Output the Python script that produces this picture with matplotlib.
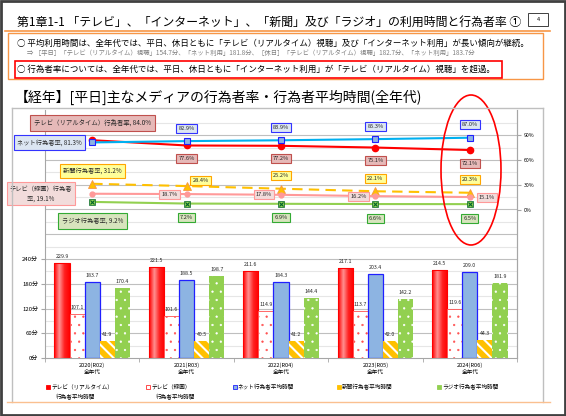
import matplotlib
matplotlib.use("Agg")
import matplotlib.pyplot as plt
import matplotlib.patches as mpatches
from matplotlib.lines import Line2D
from matplotlib.colors import LinearSegmentedColormap
import numpy as np

plt.rcParams['font.family'] = ['Noto Sans CJK JP', 'DejaVu Sans']
plt.rcParams['hatch.linewidth'] = 1.5

years = ["2020(R02)", "2021(R03)", "2022(R04)", "2023(R05)", "2024(R06)"]
age_group = "全年代"

# 行為者平均時間(分)
tv_rt_min = [229.9, 221.5, 211.6, 217.1, 214.5]
tv_rec_min = [107.1, 101.6, 114.9, 113.7, 119.6]
net_min = [183.7, 188.5, 184.3, 203.4, 209.0]
paper_min = [41.9, 40.5, 41.2, 42.0, 44.3]
radio_min = [170.4, 198.7, 144.4, 142.2, 181.9]

# 行為者率(%)
tv_rt_rate = [84.0, 77.6, 77.2, 75.1, 72.1]
net_rate = [81.3, 82.9, 83.9, 85.3, 87.0]
paper_rate = [31.2, 28.4, 25.2, 22.1, 20.3]
tv_rec_rate = [19.1, 18.7, 17.8, 16.2, 15.1]
radio_rate = [9.2, 7.2, 6.9, 6.6, 6.5]

min_ticks = [0, 60, 120, 180, 240]
rate_ticks = [0, 30, 60, 90]

W, H = 566, 416
fig = plt.figure(figsize=(W / 100, H / 100), dpi=100)


def fx(x):
    return x / W


def fy(y):
    return 1 - y / H


def hline(x0, x1, y, color, lw):
    fig.add_artist(Line2D([fx(x0), fx(x1)], [fy(y), fy(y)], color=color, lw=lw,
                          transform=fig.transFigure))


def vline(x, y0, y1, color, lw):
    fig.add_artist(Line2D([fx(x), fx(x)], [fy(y0), fy(y1)], color=color, lw=lw,
                          transform=fig.transFigure))


def frame(x0, y0, x1, y1, color, lw):
    fig.add_artist(mpatches.Rectangle((fx(x0), fy(y1)), fx(x1) - fx(x0), fy(y0) - fy(y1),
                                      fill=False, ec=color, lw=lw, transform=fig.transFigure))


# page decorations
frame(1, 1, 565, 415, '#404040', 2)
fig.text(fx(17), fy(22), "第1章1-1 「テレビ」、「インターネット」、「新聞」及び「ラジオ」の利用時間と行為者率 ①",
         fontsize=8.6, va='center', ha='left')
hline(5, 550, 31, '#F79646', 1.2)
frame(528, 13, 548, 26, '#404040', 0.7)
fig.text(fx(538), fy(19.5), "4", fontsize=4, ha='center', va='center')

frame(8, 33, 543, 79, '#F79646', 1.0)
fig.text(fx(17), fy(43), "○ 平均利用時間は、全年代では、平日、休日ともに「テレビ（リアルタイム）視聴」及び「インターネット利用」が長い傾向が継続。",
         fontsize=6.1, va='center', ha='left')
fig.text(fx(27), fy(53), "⇒ ［平日］「テレビ（リアルタイム）視聴」154.7分、「ネット利用」181.8分、［休日］「テレビ（リアルタイム）視聴」182.7分、「ネット利用」183.7分",
         fontsize=4.6, va='center', ha='left', color='#7F7F7F')
frame(15, 61, 502, 78, '#FF0000', 1.2)
fig.text(fx(17), fy(69), "○ 行為者率については、全年代では、平日、休日ともに「インターネット利用」が「テレビ（リアルタイム）視聴」を超過。",
         fontsize=6.1, va='center', ha='left')
fig.text(fx(15), fy(97), "【経年】[平日]主なメディアの行為者率・行為者平均時間(全年代)",
         fontsize=10, va='center', ha='left')

vline(12, 108, 402, '#BFBFBF', 1)
vline(543, 108, 402, '#BFBFBF', 1)
hline(12, 543, 108, '#BFBFBF', 1)
hline(7, 550, 402, '#FAC090', 1)

# chart
ax = fig.add_axes([fx(45), fy(358), 472 / W, 247.5 / H])
x = np.arange(len(years))
bw = 0.16

for v in range(30, 600, 30):
    ax.axhline(v, color='#BFBFBF' if v % 60 == 0 else '#E6E6E6', lw=0.8, zorder=0)

rt_bars = ax.bar(x - 2 * bw, tv_rt_min, bw, facecolor='none', edgecolor='#FF0000', lw=0.8, zorder=3)
grad_cmap = LinearSegmentedColormap.from_list('rtgrad', ['#FF0000', '#FF9090', '#FF2020', '#FF0000'])
grad = np.linspace(0, 1, 32).reshape(1, -1)
for r in rt_bars:
    im = ax.imshow(grad, extent=(r.get_x(), r.get_x() + r.get_width(), 0, r.get_height()),
                   aspect='auto', cmap=grad_cmap, zorder=2.5)
    im.set_clip_path(r)

with plt.rc_context({'hatch.linewidth': 0.4}):
    rec_bars = ax.bar(x - bw, tv_rec_min, bw, facecolor='white', edgecolor='#FF5050',
                      hatch='..', lw=0.6, zorder=3)
    radio_bars = ax.bar(x + 2 * bw, radio_min, bw, facecolor='#92D050', edgecolor='white',
                        hatch='..', lw=0, zorder=3)
for r in list(rec_bars) + list(radio_bars):
    if hasattr(r, 'set_hatch_linewidth'):
        r.set_hatch_linewidth(0.4)
net_bars = ax.bar(x, net_min, bw, facecolor='#8DB4E2', edgecolor='#2020FF', lw=0.9, zorder=3)
paper_bars = ax.bar(x + bw, paper_min, bw, facecolor='#FFC000', edgecolor='white',
                    hatch='\\\\\\', lw=0, zorder=3)

for bars, vals in [(rt_bars, tv_rt_min), (rec_bars, tv_rec_min), (net_bars, net_min),
                   (paper_bars, paper_min), (radio_bars, radio_min)]:
    for r, v in zip(bars, vals):
        ax.annotate(f"{v:.1f}", (r.get_x() + r.get_width() / 2, v), xytext=(0, 4),
                    textcoords='offset pixels', ha='center', va='bottom', fontsize=3.8,
                    color='#262626', zorder=4)

ax.set_xlim(-0.5, 4.5)
ax.set_ylim(0, 600)
ax.set_yticks(min_ticks)
ax.set_yticklabels([f"{v}分" for v in min_ticks])
ax.tick_params(axis='y', length=3, color='#A6A6A6', labelsize=4.3, pad=2)
ax.set_xticks(x)
ax.set_xticklabels([f"{y}\n{age_group}" for y in years], linespacing=1.5)
ax.tick_params(axis='x', length=0, labelsize=4.1, pad=3)
ax.set_xticks(np.arange(-0.5, 5, 1), minor=True)
ax.tick_params(axis='x', which='minor', length=3, color='#A6A6A6')
ax.spines['top'].set_visible(False)
for s in ['left', 'right', 'bottom']:
    ax.spines[s].set_color('#A6A6A6')

ax2 = ax.twinx()
ax2.set_ylim(-180, 120)
ax2.set_yticks(rate_ticks)
ax2.set_yticklabels([f"{v}%" for v in rate_ticks])
ax2.tick_params(axis='y', length=3, color='#A6A6A6', labelsize=3.8, pad=2)
for s in ['left', 'top', 'bottom']:
    ax2.spines[s].set_visible(False)
ax2.spines['right'].set_color('#A6A6A6')

ax2.plot(x, tv_rt_rate, color='#FF0000', lw=1.5, marker='o', ms=4.5, zorder=3)
ax2.plot(x, net_rate, color='#00B0F0', lw=1.5, marker='s', ms=4.5, mfc='#8DB4E2', mec='#2020FF',
         mew=0.8, zorder=3)
ax2.plot(x, paper_rate, color='#FFC000', lw=1.5, ls=(0, (5, 3)), marker='^', ms=5.5,
         mfc='#FFC000', mec='#F79646', mew=0.6, zorder=3)
ax2.plot(x, tv_rec_rate, color='#FF9999', lw=1.5, marker='o', ms=3.5, mfc='#FF9999',
         mec='#FF9999', zorder=3)
ax2.plot(x, radio_rate, color='#92D050', lw=1.5, marker='s', ms=4, mfc='#92D050',
         mec='#00642A', mew=0.5, zorder=3)
ax2.plot(x, radio_rate, ls='none', marker='x', ms=3.5, mec='#00642A', mew=0.8, zorder=3)


def tag(px, py, text, dx, dy, fc, ec, ha='center', size=4.1, pad=0.35):
    ax2.annotate(text, (px, py), xytext=(dx, dy), textcoords='offset pixels', ha=ha, va='center',
                 fontsize=size, multialignment='center', color='#262626', zorder=5,
                 bbox=dict(boxstyle=f'square,pad={pad}', fc=fc, ec=ec, lw=0.8))


rt_style = ('#E6B9B8', '#C0504D')
net_style = ('#DCE6F2', '#3333FF')
paper_style = ('#FFFF99', '#FFA500')
rec_style = ('#F2DCDB', '#FF9999')
radio_style = ('#D7E4BD', '#33AA33')

tag(x[0], tv_rt_rate[0], f"テレビ（リアルタイム）行為者率, {tv_rt_rate[0]:.1f}%", 0, 17, *rt_style,
    size=4.6, pad=0.6)
tag(x[0], net_rate[0], f"ネット行為者率, {net_rate[0]:.1f}%", -10, 0, *net_style, ha='right',
    size=4.5, pad=0.5)
tag(x[0], paper_rate[0], f"新聞行為者率, {paper_rate[0]:.1f}%", 0, 13, *paper_style,
    size=4.5, pad=0.5)
tag(x[0], tv_rec_rate[0], f"テレビ（録画）行為者\n率, {tv_rec_rate[0]:.1f}%", -20, 0, *rec_style,
    ha='right', size=4.5, pad=0.5)
tag(x[0], radio_rate[0], f"ラジオ行為者率, {radio_rate[0]:.1f}%", 0, -19, *radio_style,
    size=4.5, pad=0.6)

for i in range(1, len(years)):
    tag(x[i], net_rate[i], f"{net_rate[i]:.1f}%", 0, 13, *net_style)
    tag(x[i], tv_rt_rate[i], f"{tv_rt_rate[i]:.1f}%", 0, -13, *rt_style)
    tag(x[i], paper_rate[i], f"{paper_rate[i]:.1f}%", 14 if i == 1 else 0, 6 if i == 1 else 13,
        *paper_style)
    tag(x[i], tv_rec_rate[i], f"{tv_rec_rate[i]:.1f}%", 17 if i == 4 else -17, 0, *rec_style)
    tag(x[i], radio_rate[i], f"{radio_rate[i]:.1f}%", 0, -14, *radio_style)

# legend
legend_items = [
    ("テレビ（リアルタイム）", "行為者平均時間", '#FF0000', '#FF0000', 48),
    ("テレビ（録画）", "行為者平均時間", 'white', '#FF3030', 148),
    ("ネット行為者平均時間", None, '#8DB4E2', '#2020FF', 235),
    ("新聞行為者平均時間", None, '#FFC000', '#FFC000', 339),
    ("ラジオ行為者平均時間", None, '#92D050', '#92D050', 439),
]
for lab1, lab2, fc, ec, lx in legend_items:
    fig.add_artist(mpatches.Rectangle((fx(lx - 2), fy(389)), 4 / W, 4 / H, fc=fc, ec=ec, lw=0.6,
                                      transform=fig.transFigure))
    fig.text(fx(lx + 3), fy(387), lab1, fontsize=4.1, va='center', ha='left')
    if lab2:
        fig.text(fx(lx + 28), fy(397), lab2, fontsize=4.1, va='center', ha='center')

fig.add_artist(mpatches.Ellipse((fx(471), fy(170)), 60 / W, 150 / H, fill=False, ec='#FF0000',
                                lw=1.2, transform=fig.transFigure))

fig.savefig("out.png", dpi=100)
